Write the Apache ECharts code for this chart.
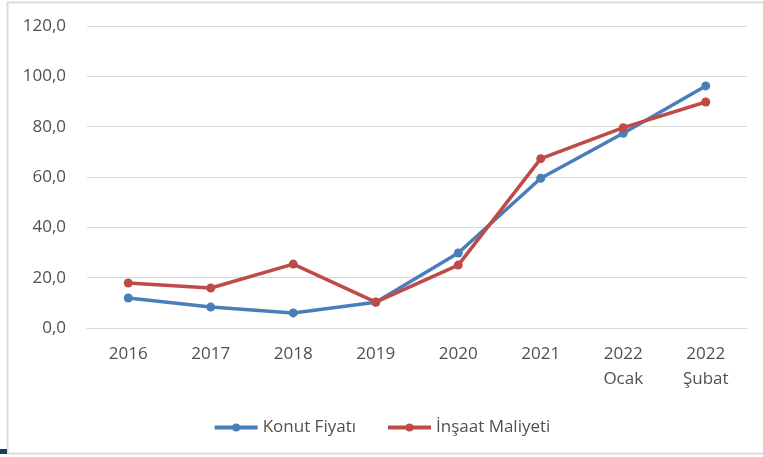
<!DOCTYPE html>
<html>
<head>
<meta charset="utf-8">
<script src="https://cdn.jsdelivr.net/npm/echarts@6/dist/echarts.min.js"></script>
<style>html,body{margin:0;padding:0;background:#fff}#c{width:763px;height:457px}</style>
</head>
<body>
<div id="c"></div>
<script>
var categories = ['2016', '2017', '2018', '2019', '2020', '2021', '2022\nOcak', '2022\nŞubat'];
var konutFiyati = [11.9, 8.3, 6.0, 10.2, 29.8, 59.5, 77.4, 96.2];
var insaatMaliyeti = [17.9, 15.9, 25.4, 10.3, 25.0, 67.3, 79.6, 89.8];
var seriesNames = ['Konut Fiyatı', 'İnşaat Maliyeti'];

var chart = echarts.init(document.getElementById('c'));
var font = '"Open Sans", sans-serif';
var textColor = '#505050';
chart.setOption({
  animation: false,
  backgroundColor: '#fff',
  color: ['#4a7ebb', '#be4b48'],
  graphic: [
    { type: 'rect', shape: { x: 7.5, y: 2.5, width: 800, height: 451 }, style: { fill: 'none', stroke: '#dcdcdc', lineWidth: 2 }, silent: true },
    { type: 'rect', shape: { x: 0, y: 449, width: 7, height: 5 }, style: { fill: '#1f3b57' }, silent: true }
  ],
  grid: { left: 87, right: 16, top: 26, bottom: 129 },
  legend: {
    top: 414,
    left: 'center',
    itemWidth: 43,
    itemHeight: 10,
    itemGap: 30,
    lineStyle: { width: 4 },
    textStyle: { fontFamily: font, fontSize: 17, color: textColor },
    data: seriesNames
  },
  xAxis: {
    type: 'category',
    data: categories,
    boundaryGap: true,
    axisLine: { show: true, lineStyle: { color: '#d9d9d9', width: 1 } },
    axisTick: { show: false },
    axisLabel: { fontFamily: font, fontSize: 17, color: textColor, margin: 14, lineHeight: 25 }
  },
  yAxis: {
    type: 'value',
    min: 0, max: 120, interval: 20,
    axisLine: { show: false },
    axisTick: { show: false },
    splitLine: { lineStyle: { color: '#d9d9d9', width: 1 } },
    axisLabel: {
      fontFamily: font, fontSize: 17, color: textColor, margin: 21,
      formatter: function (v) { return v.toFixed(1).replace('.', ','); }
    }
  },
  series: [
    { name: seriesNames[0], type: 'line', data: konutFiyati, symbol: 'circle', symbolSize: 9, lineStyle: { width: 3.5 } },
    { name: seriesNames[1], type: 'line', data: insaatMaliyeti, symbol: 'circle', symbolSize: 9, lineStyle: { width: 3.5 } }
  ]
});
</script>
</body>
</html>
